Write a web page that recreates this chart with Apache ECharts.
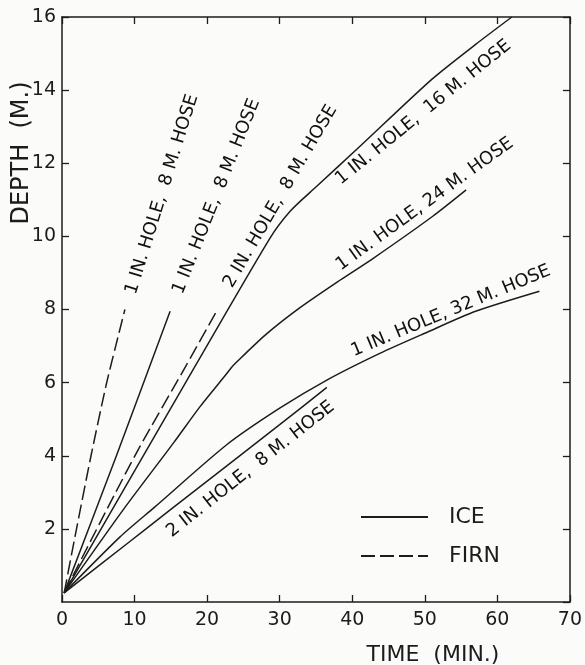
<!DOCTYPE html>
<html><head><meta charset="utf-8">
<script src="https://cdn.jsdelivr.net/npm/echarts@6/dist/echarts.min.js"></script>
<style>html,body{margin:0;padding:0;background:#fbfbf9}#c{width:585px;height:665px}</style>
</head><body><div id="c"></div>
<script>
// ---- data (time in minutes, depth in metres) ----
const xTicks = [0, 10, 20, 30, 40, 50, 60, 70];
const yTicks = [0, 2, 4, 6, 8, 10, 12, 14, 16];
const firn1in8m  = [[0.3,0.25],[2.0,2.0],[4.0,4.0],[6.1,5.95],[7.4,7.0],[8.67,8.0]];
const ice1in8m   = [[0.3,0.25],[7.5,4.0],[14.9,7.95]];
const firn2in8m  = [[0.3,0.25],[6.2,2.54],[10.6,4.2],[17.2,6.5],[21.3,7.95]];
const ice1in16m  = [[0.3,0.25],[15.0,5.3],[28.5,9.9],[31.5,10.7],[35.0,11.35],[41.0,12.45],[51.0,14.3],[57.0,15.25],[62.0,16.0]];
const ice1in24m  = [[0.3,0.25],[8.5,2.54],[15.4,4.36],[19.05,5.35],[22.6,6.22],[23.3,6.4],[24.0,6.55],[28.0,7.3],[32.8,8.05],[38.3,8.8],[42.9,9.4],[51.1,10.55],[55.7,11.27]];
const ice1in32m  = [[0.3,0.25],[8.0,1.78],[12.8,2.6],[22.7,4.3],[30.0,5.3],[36.5,6.07],[43.8,6.8],[50.0,7.35],[57.0,7.95],[65.8,8.5]];
const ice2in8m   = [[0.3,0.25],[9.0,1.6],[14.6,2.47],[23.2,3.8],[30.0,4.85],[36.5,5.87]];
const curveTexts  = ['1 IN. HOLE,  8 M. HOSE','1 IN. HOLE,  8 M. HOSE','2 IN. HOLE,  8 M. HOSE','1 IN. HOLE,  16 M. HOSE','1 IN. HOLE, 24 M. HOSE','1 IN. HOLE, 32 M. HOSE','2 IN. HOLE,  8 M. HOSE'];
const curveTextAt = [[13.8,11.15],[21.3,11.09],[30.1,11.09],[49.8,13.39],[50.0,10.88],[53.6,7.96],[26.0,3.63]];
const curveTextAngle = [72.7, 68.2, 59.7, 38.9, 35.9, 22.5, 38.3];
const legendNames = ['ICE', 'FIRN'];

// ---- chart ----
const INK = '#1c1c1c';
const FONT = 'DejaVu Sans';
const CLEAR = 'rgba(0,0,0,0)';
const chart = echarts.init(document.getElementById('c'));
const axisLine = {show: true, onZero: false, lineStyle: {color: INK, width: 1.5}};
const axisTick = {show: true, inside: true, length: 7, lineStyle: {color: INK, width: 1.3}};
function lineSeries(name, data, dashed) {
  return {type: 'line', name, data, symbol: 'none', showSymbol: false, smooth: 0.25, silent: true,
    lineStyle: {color: INK, width: 1.5, type: dashed ? [14, 5] : 'solid'}, itemStyle: {color: INK}, z: 3};
}
const option = {
  backgroundColor: '#fbfbf9',
  animation: false,
  grid: {left: 62, right: 14, top: 17, bottom: 63},
  xAxis: [
    {type: 'value', min: 0, max: 70, interval: 10, position: 'bottom', axisLine, axisTick,
     axisLabel: {fontSize: 19, color: INK, fontFamily: FONT, margin: 9,
       formatter: v => xTicks.includes(v) ? String(v) : ''}, splitLine: {show: false}},
    {type: 'value', min: 0, max: 70, interval: 10, position: 'top', axisLine, axisTick,
     axisLabel: {show: false}, splitLine: {show: false}}
  ],
  yAxis: [
    {type: 'value', min: 0, max: 16, interval: 2, position: 'left', axisLine, axisTick,
     axisLabel: {fontSize: 19, color: INK, fontFamily: FONT, margin: 6, showMinLabel: false,
       formatter: v => (yTicks.includes(v) && v !== 0) ? String(v) : ''}, splitLine: {show: false}},
    {type: 'value', min: 0, max: 16, interval: 2, position: 'right', axisLine, axisTick,
     axisLabel: {show: false}, splitLine: {show: false}}
  ],
  legend: {
    data: legendNames, orient: 'vertical', left: 355, top: 500, itemWidth: 67, itemHeight: 14,
    itemGap: 15, selectedMode: false,
    itemStyle: {color: CLEAR, borderColor: CLEAR, borderWidth: 0, opacity: 0},
    textStyle: {fontSize: 22, lineHeight: 24, color: INK, fontFamily: FONT, padding: [0, 0, 0, 16]}
  },
  series: [
    lineSeries('FIRN', firn1in8m, true),
    lineSeries('ICE', ice1in8m, false),
    lineSeries('FIRN', firn2in8m, true),
    lineSeries('ICE', ice1in16m, false),
    lineSeries('ICE', ice1in24m, false),
    lineSeries('ICE', ice1in32m, false),
    lineSeries('ICE', ice2in8m, false),
    {type: 'scatter', name: 'labels', silent: true, symbolSize: 1,
     itemStyle: {color: CLEAR, borderColor: CLEAR},
     data: curveTextAt.map((p, i) => ({value: p, label: {show: true, position: 'inside', opacity: 1,
       rotate: curveTextAngle[i], formatter: curveTexts[i], fontSize: 18, color: '#111', fontFamily: FONT}})),
     z: 4}
  ],
  graphic: [
    {type: 'text', x: 22, y: 153, rotation: Math.PI / 2,
     style: {text: 'DEPTH  (M.)', fontSize: 24, fill: INK, fontFamily: FONT, align: 'center', verticalAlign: 'middle'}},
    {type: 'text', x: 433, y: 655,
     style: {text: 'TIME  (MIN.)', fontSize: 22, fill: INK, fontFamily: FONT, align: 'center', verticalAlign: 'middle'}}
  ]
};
chart.setOption(option);
</script></body></html>
